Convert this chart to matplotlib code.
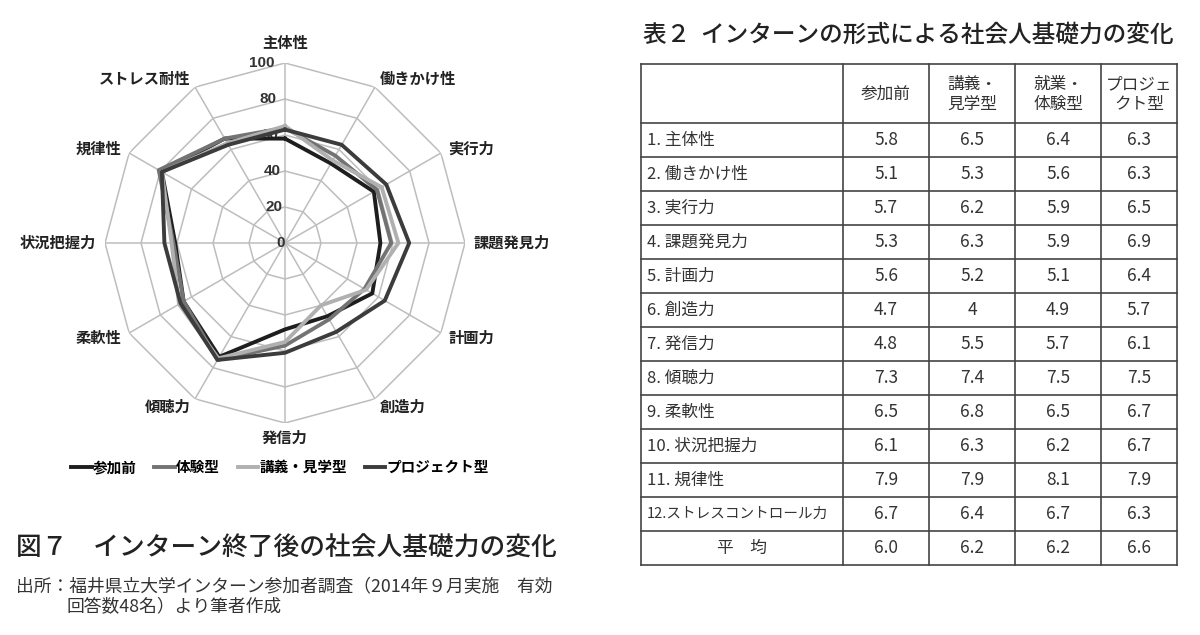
import numpy as np
import matplotlib.pyplot as plt

plt.rcParams['font.family'] = ['Noto Sans CJK JP', 'DejaVu Sans']

# 項目（レーダーの軸）
axes_labels = ['主体性', '働きかけ性', '実行力', '課題発見力', '計画力', '創造力',
               '発信力', '傾聴力', '柔軟性', '状況把握力', '規律性', 'ストレス耐性']

# 各形式の値（表2）
before = [5.8, 5.1, 5.7, 5.3, 5.6, 4.7, 4.8, 7.3, 6.5, 6.1, 7.9, 6.7]
lecture = [6.5, 5.3, 6.2, 6.3, 5.2, 4.0, 5.5, 7.4, 6.8, 6.3, 7.9, 6.4]
work = [6.4, 5.6, 5.9, 5.9, 5.1, 4.9, 5.7, 7.5, 6.5, 6.2, 8.1, 6.7]
project = [6.3, 6.3, 6.5, 6.9, 6.4, 5.7, 6.1, 7.5, 6.7, 6.7, 7.9, 6.3]
average = ['6.0', '6.2', '6.2', '6.6']

table_rows = ['1. 主体性', '2. 働きかけ性', '3. 実行力', '4. 課題発見力', '5. 計画力',
              '6. 創造力', '7. 発信力', '8. 傾聴力', '9. 柔軟性', '10. 状況把握力',
              '11. 規律性', '12.ストレスコントロール力']
table_cols = ['参加前', '講義・\n見学型', '就業・\n体験型', 'プロジェ\nクト型']

r_ticks = [0, 20, 40, 60, 80, 100]

fig = plt.figure(figsize=(12, 6.35), dpi=100)

# ---- レーダーチャート ----
cx, cy, R = 285, 243, 180
ax = fig.add_axes([(cx - R) / 1200, (635 - cy - R) / 635, 2 * R / 1200, 2 * R / 635],
                  projection='polar')
ax.set_theta_zero_location('N')
ax.set_theta_direction(-1)
ax.set_ylim(0, 100)
ax.set_xticks([])
ax.set_yticks([])
ax.grid(False)
ax.spines['polar'].set_visible(False)
ax.patch.set_alpha(0)

n = len(axes_labels)
theta = np.arange(n) * 2 * np.pi / n
theta_c = np.append(theta, theta[0])

for lv in r_ticks[1:]:
    ax.plot(theta_c, [lv] * (n + 1), color='#bdbdbd', lw=1.1, zorder=1)
for t in theta:
    ax.plot([t, t], [0, 100], color='#bdbdbd', lw=1.1, zorder=1)

for lv in r_ticks:
    ax.text(-0.06 if lv else -0.35, lv, str(lv), ha='right', va='center', fontsize=11,
            fontweight='bold', color='#333333', family=['Liberation Sans'], zorder=2)

series = [
    ('参加前', before, '#1e1e1e'),
    ('体験型', work, '#737373'),
    ('講義・見学型', lecture, '#b0b0b0'),
    ('プロジェクト型', project, '#3c3c3c'),
]
for name, vals, col in series:
    v = np.array(vals) * 10
    ax.plot(theta_c, np.append(v, v[0]), color=col, lw=2.8, label=name, zorder=3)

for t, lab in zip(theta, axes_labels):
    s = np.sin(t)
    if abs(s) < 0.1:
        ha = 'center'
        r = 111 if np.cos(t) > 0 else 108
    else:
        ha = 'left' if s > 0 else 'right'
        r = 105
    ax.text(t, r, lab, ha=ha, va='center', fontsize=11, fontweight='bold', color='#222222')

fig.legend(loc='center', bbox_to_anchor=(280 / 1200, 1 - 467 / 635), ncol=4, frameon=False,
           handlelength=1.4, handletextpad=0.1, columnspacing=1.2,
           prop={'size': 10.5, 'weight': 'bold'})

# ---- テキスト・表 ----
tx = fig.add_axes([0, 0, 1, 1])
tx.set_xlim(0, 1200)
tx.set_ylim(635, 0)
tx.axis('off')
tx.patch.set_alpha(0)

tx.text(16, 548, '図７　インターン終了後の社会人基礎力の変化', fontsize=18.5, va='center',
        color='#222222', fontweight='medium')
tx.text(16, 586, '出所：福井県立大学インターン参加者調査（2014年９月実施　有効', fontsize=12.8,
        va='center', color='#333333')
tx.text(67, 607, '回答数48名）より筆者作成', fontsize=12.8, va='center', color='#333333')

tx.text(643, 35, '表２  インターンの形式による社会人基礎力の変化', fontsize=17, va='center',
        color='#222222', fontweight='medium')

x_edges = [641, 843, 929, 1015, 1101, 1177]
y_top, head_h, row_h = 64, 59, 34
n_rows = len(table_rows) + 1
y_bottom = y_top + head_h + n_rows * row_h
for x in x_edges:
    tx.plot([x, x], [y_top, y_bottom], color='#444444', lw=1.2)
tx.plot([x_edges[0], x_edges[-1]], [y_top, y_top], color='#444444', lw=1.2)
for i in range(n_rows + 1):
    y = y_top + head_h + i * row_h
    tx.plot([x_edges[0], x_edges[-1]], [y, y], color='#444444', lw=1.2)

for j, c in enumerate(table_cols):
    xm = (x_edges[j + 1] + x_edges[j + 2]) / 2
    tx.text(xm, y_top + head_h / 2 + 1, c, ha='center', va='center', fontsize=12,
            color='#333333', linespacing=1.2)

cols_vals = [before, lecture, work, project]
for i, lab in enumerate(table_rows):
    ym = y_top + head_h + (i + 0.5) * row_h
    fs = 10.5 if i == len(table_rows) - 1 else 12
    tx.text(x_edges[0] + 6, ym, lab, ha='left', va='center', fontsize=fs, color='#333333')
    for j, vals in enumerate(cols_vals):
        xm = (x_edges[j + 1] + x_edges[j + 2]) / 2
        v = vals[i]
        s = '4' if v == 4.0 else f'{v:.1f}'
        tx.text(xm, ym, s, ha='center', va='center', fontsize=12.5, color='#333333')

ym = y_top + head_h + (n_rows - 0.5) * row_h
tx.text((x_edges[0] + x_edges[1]) / 2, ym, '平　均', ha='center', va='center', fontsize=12,
        color='#333333')
for j, a in enumerate(average):
    xm = (x_edges[j + 1] + x_edges[j + 2]) / 2
    tx.text(xm, ym, a, ha='center', va='center', fontsize=12.5, color='#333333')

fig.savefig('out.png', dpi=100)
